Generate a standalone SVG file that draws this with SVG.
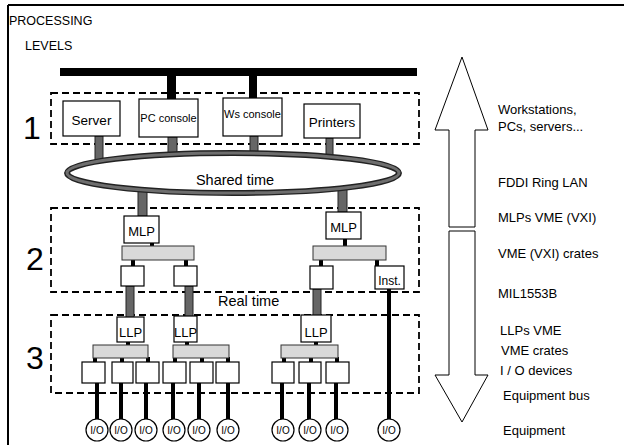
<svg xmlns="http://www.w3.org/2000/svg" width="624" height="445" viewBox="0 0 624 445">
<style>
text{font-family:"Liberation Sans",Arial,sans-serif;fill:#000}
.dash{fill:none;stroke:#000;stroke-width:1.8;stroke-dasharray:7 4}
.box{fill:#fff;stroke:#000;stroke-width:1.2}
.gstem{fill:#666;stroke:#222;stroke-width:1}
.bar{fill:#d9d9d9;stroke:#333;stroke-width:1}
.blk{fill:#000}
.wire{stroke:#000;stroke-width:4;fill:none}
.io{fill:#fff;stroke:#000;stroke-width:1.2}
.iot{font-size:10px;text-anchor:middle}
.lbl{font-size:13px}
.num{font-size:32px}
.c{text-anchor:middle}
.arrow{fill:#fff;stroke:#000;stroke-width:1}
</style>

<!-- frame -->
<g id="frame">
<line x1="8" y1="5" x2="624" y2="5" stroke="#000" stroke-width="2"/>
<line x1="8" y1="5" x2="8" y2="445" stroke="#000" stroke-width="2"/>
<text x="9" y="25" font-size="12.5">PROCESSING</text>
<text x="25" y="50" font-size="12.5">LEVELS</text>
</g>

<!-- level boxes -->
<g id="level1">
<rect class="dash" x="51" y="93" width="368" height="51"/>
<text class="num" x="23" y="139">1</text>
</g>
<g id="level2">
<rect class="dash" x="51" y="208" width="368" height="84"/>
<text class="num" x="26" y="270">2</text>
</g>
<g id="level3">
<rect class="dash" x="51" y="315" width="368" height="78"/>
<text class="num" x="26" y="369">3</text>
</g>

<!-- connectors -->
<g id="connectors">
<!-- top bus -->
<rect class="blk" x="60" y="68" width="357" height="8"/>
<rect class="blk" x="167" y="72" width="9" height="28"/>
<rect class="blk" x="249" y="72" width="8" height="27"/>
<!-- gray stems level 1 to ring -->
<rect class="gstem" x="95" y="136" width="8" height="36"/>
<rect class="gstem" x="168" y="137" width="9" height="35"/>
<rect class="gstem" x="250" y="136" width="8" height="36"/>
<rect class="gstem" x="326" y="138" width="7" height="34"/>
<!-- ring to MLPs -->
<rect class="gstem" x="138" y="174" width="9" height="42"/>
<rect class="gstem" x="338" y="174" width="9" height="38"/>
<!-- MLP to crate bars -->
<rect class="blk" x="150" y="242" width="4" height="5"/>
<rect class="blk" x="343" y="238" width="4" height="9"/>
<!-- crate bar to boxes level 2 -->
<rect class="blk" x="131" y="259" width="4" height="8"/>
<rect class="blk" x="184" y="259" width="4" height="8"/>
<rect class="blk" x="319" y="259" width="4" height="8"/>
<rect class="blk" x="375" y="259" width="4" height="8"/>
<!-- level 2 boxes to LLPs -->
<rect class="gstem" x="126" y="286" width="8" height="32"/>
<rect class="gstem" x="185" y="286" width="8" height="31"/>
<rect class="gstem" x="313" y="289" width="8" height="27"/>
<!-- LLP to bars -->
<rect class="blk" x="126" y="341" width="4" height="5"/>
<rect class="blk" x="185" y="341" width="4" height="5"/>
<rect class="blk" x="314" y="341" width="4" height="5"/>
<!-- bar to I/O boxes -->
<rect class="blk" x="93" y="357" width="4" height="6"/>
<rect class="blk" x="120" y="357" width="4" height="6"/>
<rect class="blk" x="146" y="357" width="4" height="6"/>
<rect class="blk" x="173" y="357" width="4" height="6"/>
<rect class="blk" x="200" y="357" width="4" height="6"/>
<rect class="blk" x="226" y="357" width="4" height="6"/>
<rect class="blk" x="282" y="357" width="4" height="6"/>
<rect class="blk" x="309" y="357" width="4" height="6"/>
<rect class="blk" x="335" y="357" width="4" height="6"/>
<!-- equipment bus wires -->
<line class="wire" x1="97" y1="383" x2="97" y2="419"/>
<line class="wire" x1="121" y1="383" x2="121" y2="419"/>
<line class="wire" x1="146" y1="383" x2="146" y2="419"/>
<line class="wire" x1="173" y1="383" x2="173" y2="419"/>
<line class="wire" x1="199" y1="383" x2="199" y2="419"/>
<line class="wire" x1="228" y1="383" x2="228" y2="419"/>
<line class="wire" x1="282" y1="383" x2="282" y2="419"/>
<line class="wire" x1="309" y1="383" x2="309" y2="419"/>
<line class="wire" x1="336" y1="383" x2="336" y2="419"/>
<line class="wire" x1="389" y1="289" x2="389" y2="419"/>
</g>

<!-- ring -->
<g id="ring">
<ellipse cx="233" cy="173" rx="166" ry="20" fill="#fff" stroke="#222" stroke-width="6"/>
<ellipse cx="233" cy="173" rx="166" ry="20" fill="none" stroke="#6e6e6e" stroke-width="3"/>
<text x="235" y="185" font-size="14.5" class="c">Shared time</text>
</g>

<!-- level 1 nodes -->
<g id="server"><rect class="box" x="63" y="101" width="57" height="35"/><text x="91.5" y="125" font-size="13.5" class="c">Server</text></g>
<g id="pc-console"><rect class="box" x="139" y="99" width="59" height="38"/><text x="168.5" y="122" font-size="11" class="c">PC console</text></g>
<g id="ws-console"><rect class="box" x="223" y="98" width="59" height="38"/><text x="252.5" y="118" font-size="11" class="c">Ws console</text></g>
<g id="printers"><rect class="box" x="304" y="104" width="56" height="34"/><text x="332" y="127" font-size="13.5" class="c">Printers</text></g>

<!-- level 2 nodes -->
<g id="mlp1"><rect class="box" x="124" y="216" width="35" height="27"/><text x="141.5" y="236" font-size="13" class="c">MLP</text></g>
<g id="mlp2"><rect class="box" x="326" y="212" width="35" height="27"/><text x="343.5" y="232" font-size="13" class="c">MLP</text></g>
<g id="crate1"><rect class="bar" x="122" y="246" width="72" height="14"/></g>
<g id="crate2"><rect class="bar" x="313" y="246" width="73" height="14"/></g>
<g id="card1"><rect class="box" x="121" y="266" width="23" height="20"/></g>
<g id="card2"><rect class="box" x="174" y="266" width="23" height="20"/></g>
<g id="card3"><rect class="box" x="310" y="266" width="23" height="23"/></g>
<g id="inst"><rect class="box" x="375" y="266" width="29" height="23"/><text x="389.5" y="285" font-size="12" class="c">Inst.</text></g>
<text x="218" y="306" font-size="14.5">Real time</text>

<!-- level 3 nodes -->
<g id="llp1"><rect class="box" x="117" y="317" width="27" height="25"/><text x="130.5" y="337" font-size="13" class="c">LLP</text></g>
<g id="llp2"><rect class="box" x="174" y="316" width="23" height="26"/><text x="185.5" y="337" font-size="13" class="c">LLP</text></g>
<g id="llp3"><rect class="box" x="301" y="315" width="30" height="27"/><text x="316" y="337" font-size="13" class="c">LLP</text></g>
<g id="vme1"><rect class="bar" x="93" y="345" width="55" height="13"/></g>
<g id="vme2"><rect class="bar" x="173" y="345" width="56" height="13"/></g>
<g id="vme3"><rect class="bar" x="281" y="345" width="57" height="13"/></g>
<g id="dev1"><rect class="box" x="82" y="362" width="23" height="21"/></g>
<g id="dev2"><rect class="box" x="112" y="362" width="21" height="21"/></g>
<g id="dev3"><rect class="box" x="136" y="362" width="23" height="21"/></g>
<g id="dev4"><rect class="box" x="163" y="362" width="23" height="21"/></g>
<g id="dev5"><rect class="box" x="190" y="362" width="23" height="21"/></g>
<g id="dev6"><rect class="box" x="216" y="362" width="23" height="21"/></g>
<g id="dev7"><rect class="box" x="272" y="362" width="22" height="21"/></g>
<g id="dev8"><rect class="box" x="299" y="362" width="22" height="21"/></g>
<g id="dev9"><rect class="box" x="326" y="362" width="23" height="21"/></g>

<!-- equipment -->
<g id="io1"><circle class="io" cx="97" cy="430" r="11"/><text class="iot" x="97" y="434">I/O</text></g>
<g id="io2"><circle class="io" cx="121" cy="430" r="11"/><text class="iot" x="121" y="434">I/O</text></g>
<g id="io3"><circle class="io" cx="146" cy="430" r="11"/><text class="iot" x="146" y="434">I/O</text></g>
<g id="io4"><circle class="io" cx="174" cy="430" r="11"/><text class="iot" x="174" y="434">I/O</text></g>
<g id="io5"><circle class="io" cx="199" cy="430" r="11"/><text class="iot" x="199" y="434">I/O</text></g>
<g id="io6"><circle class="io" cx="228" cy="430" r="11"/><text class="iot" x="228" y="434">I/O</text></g>
<g id="io7"><circle class="io" cx="283" cy="430" r="11"/><text class="iot" x="283" y="434">I/O</text></g>
<g id="io8"><circle class="io" cx="310" cy="430" r="11"/><text class="iot" x="310" y="434">I/O</text></g>
<g id="io9"><circle class="io" cx="337" cy="430" r="11"/><text class="iot" x="337" y="434">I/O</text></g>
<g id="io10"><circle class="io" cx="389" cy="430" r="11"/><text class="iot" x="389" y="434">I/O</text></g>

<!-- arrows -->
<g id="arrow-up"><polygon class="arrow" points="462,57 488,130 475,130 475,227 449,227 449,130 435,130"/></g>
<g id="arrow-down"><polygon class="arrow" points="449,231 475,231 475,375 488,375 462,422 435,375 449,375"/></g>

<!-- right labels -->
<g id="labels">
<text class="lbl" x="498" y="114">Workstations,</text>
<text class="lbl" x="498" y="131">PCs, servers...</text>
<text class="lbl" x="498" y="187">FDDI Ring LAN</text>
<text class="lbl" x="498" y="222">MLPs VME (VXI)</text>
<text class="lbl" x="498" y="258">VME (VXI) crates</text>
<text class="lbl" x="498" y="298">MIL1553B</text>
<text class="lbl" x="500" y="335">LLPs VME</text>
<text class="lbl" x="501" y="355">VME crates</text>
<text class="lbl" x="500" y="375">I / O devices</text>
<text class="lbl" x="503" y="400">Equipment bus</text>
<text class="lbl" x="503" y="435">Equipment</text>
</g>
</svg>
